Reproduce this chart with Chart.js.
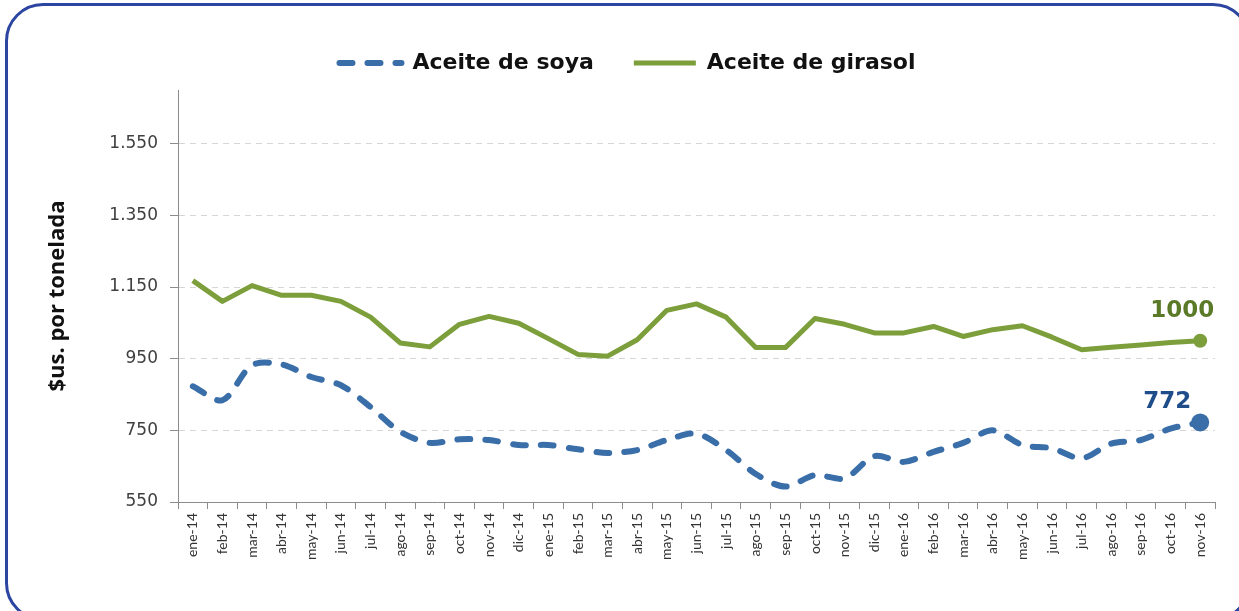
<!DOCTYPE html>
<html>
<head>
<meta charset="utf-8">
<script src="https://cdn.jsdelivr.net/npm/chart.js@4"></script>
<style>
  body { margin: 0; background: #fff; }
  #wrap { position: relative; width: 1239px; height: 611px; overflow: hidden; }
  #frame {
    position: absolute; left: 5px; top: 3px; width: 1240px; height: 612px;
    border: 3px solid #2b45a0; border-radius: 38px;
  }
  #chart { position: absolute; left: 0; top: 0; }
</style>
</head>
<body>
<div id="wrap">
  <div id="frame"></div>
  <canvas id="chart" width="1239" height="611"></canvas>
</div>
<script>
// months shown on the x axis
const months = [
  'ene-14','feb-14','mar-14','abr-14','may-14','jun-14','jul-14','ago-14','sep-14','oct-14','nov-14','dic-14',
  'ene-15','feb-15','mar-15','abr-15','may-15','jun-15','jul-15','ago-15','sep-15','oct-15','nov-15','dic-15',
  'ene-16','feb-16','mar-16','abr-16','may-16','jun-16','jul-16','ago-16','sep-16','oct-16','nov-16'
];

// $us por tonelada
const soya = [873, 834, 932, 934, 899, 876, 815, 746, 715, 725, 723, 709,
              709, 697, 687, 695, 723, 741, 695, 628, 593, 625, 616, 678,
              662, 690, 715, 750, 709, 700, 672, 713, 723, 755, 772];
const girasol = [1168, 1110, 1154, 1127, 1127, 1110, 1066, 994, 983, 1046, 1068, 1049,
                 1006, 962, 957, 1003, 1085, 1103, 1066, 981, 981, 1062, 1046, 1022,
                 1022, 1040, 1012, 1031, 1042, 1010, 975, 982, 988, 995, 1000];

const yTicks = [550, 750, 950, 1150, 1350, 1550];

const lastIdx = months.length - 1;

// thousands with a dot like the original (1.550)
const fmt = function (v) { return String(v).replace(/\B(?=(\d{3})+$)/g, '.'); };

// writes the value of the last point above it
const lastLabel = {
  id: 'lastLabel',
  afterDatasetsDraw(chart) {
    const ctx = chart.ctx;
    const shift = [[-33, -20], [-18, -30]];
    const colors = ['#1f4d8a', '#5a7a28'];
    chart.data.datasets.forEach((ds, i) => {
      const pt = chart.getDatasetMeta(i).data[lastIdx];
      ctx.save();
      ctx.font = 'bold 23px "DejaVu Sans"';
      ctx.fillStyle = colors[i];
      ctx.textAlign = 'center';
      ctx.textBaseline = 'middle';
      ctx.fillText(ds.data[lastIdx], pt.x + shift[i][0], pt.y + shift[i][1]);
      ctx.restore();
    });
  }
};

// legend height fixed so the plot starts where the original does
const legendHeight = {
  id: 'legendHeight',
  beforeInit(chart) {
    const fit = chart.legend.fit;
    chart.legend.fit = function () {
      fit.bind(chart.legend)();
      this.height = 78;
    };
  }
};

new Chart(document.getElementById('chart'), {
  type: 'line',
  data: {
    labels: months,
    datasets: [{
      label: 'Aceite de soya',
      data: soya,
      borderColor: '#3a6ea8',
      backgroundColor: '#3a6ea8',
      borderWidth: 6,
      borderDash: [13, 15],
      borderCapStyle: 'round',
      tension: 0.3,
      pointRadius: c => c.dataIndex === lastIdx ? 9 : 0,
      pointBorderWidth: 0
    }, {
      label: 'Aceite de girasol',
      data: girasol,
      borderColor: '#7c9e3b',
      backgroundColor: '#7c9e3b',
      borderWidth: 5,
      borderJoinStyle: 'round',
      tension: 0,
      pointRadius: c => c.dataIndex === lastIdx ? 7 : 0,
      pointBorderWidth: 0
    }]
  },
  options: {
    responsive: false,
    animation: false,
    layout: { padding: { top: 12, left: 40, right: 24, bottom: 0 } },
    plugins: {
      tooltip: { enabled: false },
      legend: {
        display: true,
        position: 'top',
        labels: {
          usePointStyle: true,
          pointStyle: 'line',
          pointStyleWidth: 62,
          padding: 40,
          color: '#111',
          font: { family: '"DejaVu Sans"', size: 22, weight: 'bold' },
          // line samples take the line's own width / dash, not the point's
          generateLabels: chart => {
            const items = Chart.defaults.plugins.legend.labels.generateLabels(chart);
            items.forEach(it => {
              const ds = chart.data.datasets[it.datasetIndex];
              it.lineWidth = ds.borderWidth;
              it.strokeStyle = ds.borderColor;
              it.lineDash = ds.borderDash || [];
              it.lineCap = ds.borderDash ? 'round' : 'butt';
            });
            return items;
          }
        }
      }
    },
    scales: {
      x: {
        type: 'category',
        offset: true,
        afterFit: s => { s.height = 109; },
        border: { color: '#8c8c8c', width: 1 },
        grid: { display: true, drawOnChartArea: false, drawTicks: true, tickLength: 7, color: '#8c8c8c', tickBorderDash: [], offset: true },
        ticks: {
          autoSkip: false,
          minRotation: 90,
          maxRotation: 90,
          padding: 4,
          color: '#333',
          font: { family: 'Lato', size: 14 }
        }
      },
      y: {
        min: 550,
        max: 1700,
        afterFit: s => { s.width = 138; },
        afterBuildTicks: s => { s.ticks = yTicks.map(v => ({ value: v })); },
        border: { color: '#8c8c8c', width: 1, dash: [6, 5] },
        grid: {
          color: '#d6d6d6',
          tickColor: '#8c8c8c',
          tickBorderDash: [],
          tickLength: 8
        },
        ticks: {
          padding: 12,
          color: '#404040',
          font: { family: '"DejaVu Sans"', size: 17 },
          callback: v => fmt(v)
        },
        title: {
          display: true,
          text: '$us. por tonelada',
          color: '#111',
          padding: { top: 5, bottom: 0 },
          font: { family: '"Open Sans"', size: 22, weight: 'bold' }
        }
      }
    }
  },
  plugins: [legendHeight, lastLabel]
});
</script>
</body>
</html>
